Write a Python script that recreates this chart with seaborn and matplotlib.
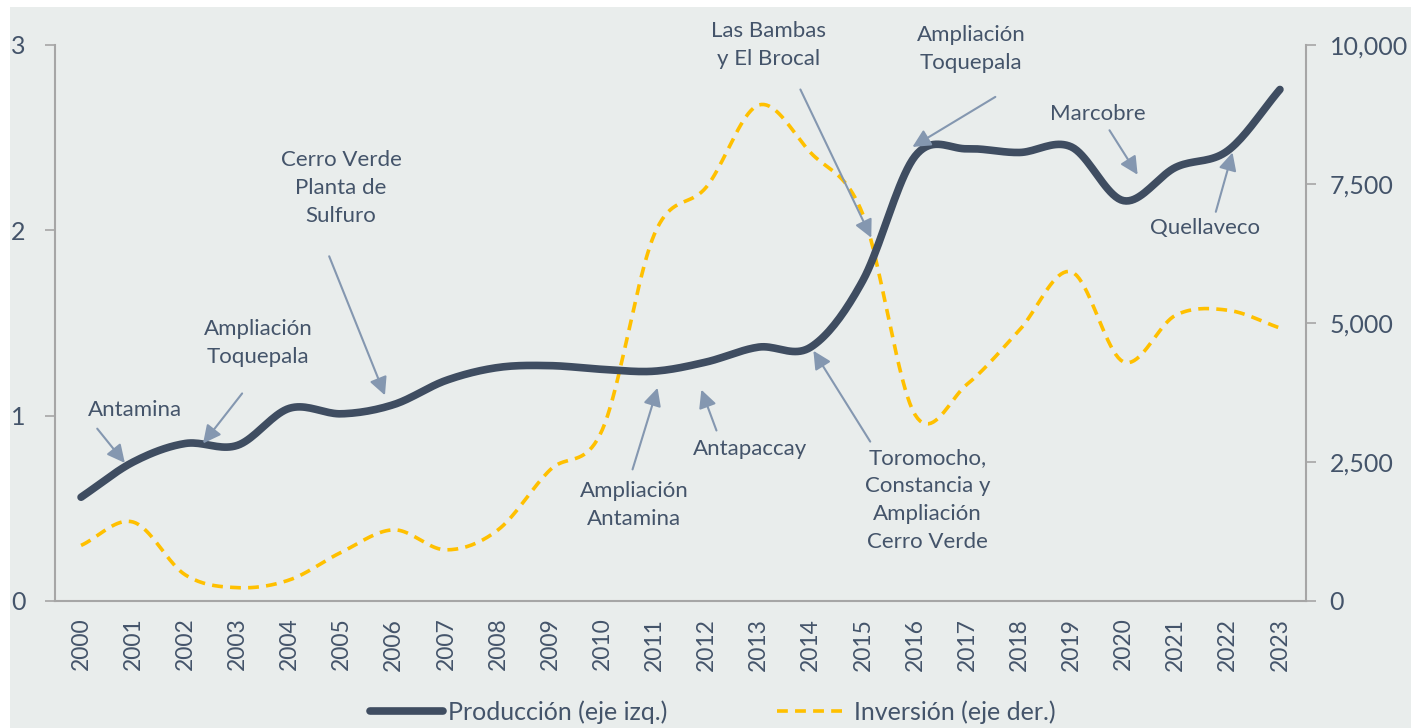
import matplotlib
matplotlib.use("Agg")
import matplotlib.pyplot as plt
from matplotlib.ticker import FuncFormatter
import numpy as np
import pandas as pd
import seaborn as sns

# --- data ---------------------------------------------------------------
years = [str(y) for y in range(2000, 2024)]
produccion = [0.56, 0.75, 0.85, 0.84, 1.04, 1.01, 1.06, 1.19, 1.26, 1.27, 1.25, 1.24,
              1.29, 1.37, 1.37, 1.73, 2.40, 2.44, 2.42, 2.45, 2.16, 2.34, 2.43, 2.76]
inversion = [1000, 1420, 470, 240, 380, 880, 1280, 920, 1280, 2360, 3080, 6600,
             7450, 8920, 8060, 6950, 3350, 3900, 4870, 5920, 4300, 5140, 5230, 4910]

# annotations: label, text pos, arrow tail, arrow head (x in category index, y in left-axis units)
notes = [
    ("Antamina", (1.04, 1.03), (0.31, 0.93), (0.84, 0.745)),
    ("Ampliación\nToquepala", (3.40, 1.39), (3.09, 1.12), (2.34, 0.85)),
    ("Cerro Verde\nPlanta de\nSulfuro", (4.99, 2.23), (4.76, 1.86), (5.83, 1.11)),
    ("Las Bambas\ny El Brocal", (13.19, 3.00), (13.80, 2.76), (15.16, 1.96)),
    ("Ampliación\nToquepala", (17.08, 2.98), (17.54, 2.72), (15.95, 2.45)),
    ("Marcobre", (19.50, 2.63), (19.73, 2.54), (20.27, 2.30)),
    ("Quellaveco", (21.57, 2.01), (21.77, 2.10), (22.09, 2.42)),
    ("Ampliación\nAntamina", (10.61, 0.52), (10.58, 0.71), (11.06, 1.15)),
    ("Antapaccay", (12.84, 0.82), (12.19, 0.92), (11.90, 1.14)),
    ("Toromocho,\nConstancia y\nAmpliación\nCerro Verde", (16.24, 0.545), (15.14, 0.86), (14.05, 1.35)),
]

BG = "#E9EDEC"
TXT = "#44546A"
DARK = "#3F4D61"
GOLD = "#FFC000"
ARROW = "#8497B0"
AXC = "#A6A6A6"


def smooth(vals, n=20):
    """Catmull-Rom curve through the points (like Excel's smoothed line)."""
    p = np.asarray(vals, dtype=float)
    x = np.arange(len(p), dtype=float)
    px = np.concatenate([[2 * x[0] - x[1]], x, [2 * x[-1] - x[-2]]])
    py = np.concatenate([[2 * p[0] - p[1]], p, [2 * p[-1] - p[-2]]])
    xs, ys = [], []
    t = np.linspace(0, 1, n, endpoint=False)
    for i in range(1, len(px) - 2):
        for arr, out in ((px, xs), (py, ys)):
            p0, p1, p2, p3 = arr[i - 1], arr[i], arr[i + 1], arr[i + 2]
            out.extend(0.5 * ((2 * p1) + (-p0 + p2) * t + (2 * p0 - 5 * p1 + 4 * p2 - p3) * t ** 2
                              + (-p0 + 3 * p1 - 3 * p2 + p3) * t ** 3))
    xs.append(x[-1])
    ys.append(p[-1])
    return pd.DataFrame({"x": xs, "y": ys})


sns.set_theme(style="white")
plt.rcParams["font.family"] = ["Lato", "DejaVu Sans"]

fig = plt.figure(figsize=(14.11, 7.28), dpi=100)
fig.patch.set_facecolor("white")
fig.add_artist(plt.Rectangle((10 / 1411, 0), 1, 1 - 7 / 728, transform=fig.transFigure,
                             facecolor=BG, edgecolor="none", zorder=-10))
ax = fig.add_axes([55 / 1411, 1 - 601 / 728, (1306 - 55) / 1411, (601 - 45) / 728])
ax.set_facecolor("none")
ax2 = ax.twinx()

d_inv = smooth(inversion)
d_prod = smooth(produccion)
sns.lineplot(data=d_inv, x="x", y="y", ax=ax2, color=GOLD, lw=2.6, sort=False,
             dashes=False, linestyle=(0, (3, 2)), label="Inversión (eje der.)", legend=False)
sns.lineplot(data=d_prod, x="x", y="y", ax=ax, color=DARK, lw=5.5, sort=False,
             solid_capstyle="round", label="Producción (eje izq.)", legend=False)
ax.set_zorder(ax2.get_zorder() + 1)

n = len(years)
ax.set_xlim(-0.5, n - 0.5)
ax.set_ylim(0, 3)
ax2.set_ylim(0, 10000)
ax.set_xticks(range(n))
ax.set_xticklabels(years, rotation=90, fontsize=16.5, color=TXT)
ax.set_xticks(np.arange(-0.5, n, 1), minor=True)
ax.tick_params(axis="x", which="major", length=0, pad=12)
ax.tick_params(axis="x", which="minor", length=7, color=AXC, width=1.2, direction="out")
ax.set_yticks([0, 1, 2, 3])
ax.tick_params(axis="y", length=7, color=AXC, width=1.2, labelsize=18, labelcolor=TXT, pad=14)
ax2.set_yticks([0, 2500, 5000, 7500, 10000])
ax2.yaxis.set_major_formatter(FuncFormatter(lambda v, _: f"{v:,.0f}"))
ax2.tick_params(axis="y", length=7, color=AXC, width=1.2, labelsize=18, labelcolor=TXT, pad=10)
ax.set_xlabel("")
ax.set_ylabel("")
ax2.set_xlabel("")
ax2.set_ylabel("")

for a in (ax, ax2):
    a.spines["top"].set_visible(False)
    for side in ("left", "right", "bottom"):
        a.spines[side].set_color(AXC)
        a.spines[side].set_linewidth(1.5)
ax.spines["right"].set_visible(False)
ax2.spines["left"].set_visible(False)
ax2.spines["bottom"].set_visible(False)

for label, txt_pos, tail, head in notes:
    ax.text(txt_pos[0], txt_pos[1], label, ha="center", va="center", fontsize=16,
            color=TXT, linespacing=1.5, zorder=6, clip_on=False)
    ax.annotate("", xy=head, xytext=tail, annotation_clip=False, zorder=7,
                arrowprops=dict(arrowstyle="-|>,head_length=0.9,head_width=0.45",
                                color=ARROW, lw=1.5, shrinkA=0, shrinkB=0))

h1, l1 = ax.get_legend_handles_labels()
h2, l2 = ax2.get_legend_handles_labels()
fig.legend(h1 + h2, l1 + l2, loc="center", bbox_to_anchor=(713 / 1411, 1 - 712 / 728),
           ncol=2, frameon=False, fontsize=18, handlelength=2.9, handletextpad=0.2,
           columnspacing=4.4, labelcolor=TXT)

fig.savefig("out.png", dpi=100, facecolor=fig.get_facecolor())
